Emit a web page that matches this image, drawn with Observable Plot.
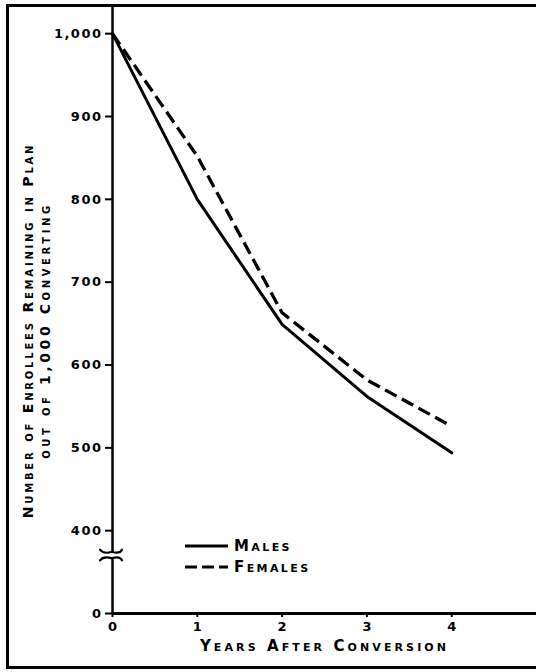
<!DOCTYPE html>
<html>
<head>
<meta charset="utf-8">
<script src="https://cdn.jsdelivr.net/npm/d3@7"></script>
<script src="https://cdn.jsdelivr.net/npm/@observablehq/plot@0.6"></script>
<style>
  body { margin: 0; background: #fff; }
  #wrap { position: relative; width: 536px; height: 672px; overflow: hidden; background: #fff; }
  #wrap svg { position: absolute; left: 0; top: 0; }
  #frame { position: absolute; left: 6px; top: 4px; width: 620px; height: 665px; box-sizing: border-box;
           border: 3px solid #000; border-right: none; pointer-events: none; }
  #wrap svg text { font-variant: small-caps; }
</style>
</head>
<body>
<div id="wrap"><div id="frame"></div></div>
<script>
// ---- data ----
const years   = [0, 1, 2, 3, 4];
const males   = [1000, 800, 649, 562, 494];
const females = [1000, 852, 663, 582, 526];
const seriesNames = ["Males", "Females"];
const yTickValues = [0, 400, 500, 600, 700, 800, 900, 1000];
const xTickValues = [0, 1, 2, 3, 4];
const breakRange = [366, 374];      // axis break between 0 and 400
const yLabelLines = ["Number of Enrollees Remaining in Plan", "out of 1,000 Converting"];
const xLabel = "Years After Conversion";

// broken y axis: 0 drawn where 300 would be
const ZERO_AT = 300;
const toAxis = v => (v === 0 ? ZERO_AT : v);
const fromAxis = v => (v === ZERO_AT ? 0 : v);
const fmt = d3.format(",");

const table = years.flatMap((yr, i) => [
  {year: yr, value: males[i], series: seriesNames[0]},
  {year: yr, value: females[i], series: seriesNames[1]}
]);

const FONT = "DejaVu Sans";

function axisBreak(index, scales, values, dims) {
  const g = d3.create("svg:g");
  const x0 = scales.x(0);
  const yTop = scales.y(breakRange[1]);
  const yBot = scales.y(breakRange[0]);
  g.append("rect").attr("x", x0 - 4).attr("y", yTop).attr("width", 8).attr("height", yBot - yTop).attr("fill", "#fff");
  const brace = (y, s) => `M${x0 - 12},${y - 2 * s} C${x0 - 9},${y + 2 * s} ${x0 - 3},${y + 1 * s} ${x0},${y} C${x0 + 3},${y + 1 * s} ${x0 + 8},${y + 2 * s} ${x0 + 10},${y - 2 * s}`;
  g.append("path").attr("d", brace(yTop, 1)).attr("fill", "none").attr("stroke", "#000").attr("stroke-width", 2.2).attr("stroke-linecap", "round");
  g.append("path").attr("d", brace(yBot, -1)).attr("fill", "none").attr("stroke", "#000").attr("stroke-width", 2.2).attr("stroke-linecap", "round");
  return g.node();
}

function legend(index, scales, values, dims) {
  const g = d3.create("svg:g");
  const xl = dims.marginLeft + 73, xr = dims.marginLeft + 116;
  const base = dims.height - dims.marginBottom;
  const rows = [
    {name: seriesNames[0], dy: -67, dash: null},
    {name: seriesNames[1], dy: -46, dash: "12,5"}
  ];
  for (const r of rows) {
    g.append("line").attr("x1", xl).attr("x2", xr).attr("y1", base + r.dy).attr("y2", base + r.dy)
      .attr("stroke", "#000").attr("stroke-width", 3).attr("stroke-dasharray", r.dash);
    g.append("text").attr("x", xr + 6).attr("y", base + r.dy).attr("dy", "0.36em")
      .attr("text-anchor", "start")
      .attr("font-family", FONT).attr("font-weight", "bold").attr("font-size", 15)
      .attr("letter-spacing", 2.4).attr("fill", "#000").text(r.name);
  }
  return g.node();
}

const chart = Plot.plot({
  width: 536,
  height: 672,
  marginLeft: 112,
  marginRight: 0,
  marginTop: 5,
  marginBottom: 59,
  style: {fontFamily: FONT, fontWeight: "bold", fontSize: "12px", color: "#000", background: "transparent"},
  x: {domain: [0, 5]},
  y: {domain: [ZERO_AT, 1034]},
  marks: [
    Plot.ruleY([ZERO_AT], {stroke: "#000", strokeWidth: 3}),
    Plot.ruleX([0], {stroke: "#000", strokeWidth: 2.5}),
    axisBreak,
    Plot.axisY({ticks: yTickValues.map(toAxis), tickFormat: d => fmt(fromAxis(d)), tickSize: 7, tickPadding: 3,
                strokeWidth: 2, fontSize: 13, label: null}),
    Plot.axisX({ticks: xTickValues, tickFormat: d3.format("d"), tickSize: 4, tickPadding: 4, strokeWidth: 2, fontSize: 13, label: null}),
    Plot.line(table, {x: "year", y: "value", z: "series", stroke: "#000", strokeWidth: 3,
      filter: d => d.series === seriesNames[0], strokeLinecap: "round", strokeLinejoin: "round"}),
    Plot.line(table, {x: "year", y: "value", z: "series", stroke: "#000", strokeWidth: 3.3,
      strokeDasharray: "13,6", filter: d => d.series === seriesNames[1], strokeLinecap: "butt", strokeLinejoin: "round"}),
    Plot.text([xLabel], {frameAnchor: "bottom", dy: 37, fontSize: 15, fontWeight: "bold", text: d => d}),
    Plot.text([yLabelLines[0]], {frameAnchor: "left", textAnchor: "middle", dx: -84, dy: 21, rotate: -90, fontSize: 14, fontWeight: "bold", text: d => d}),
    Plot.text([yLabelLines[1]], {frameAnchor: "left", textAnchor: "middle", dx: -67, dy: 21, rotate: -90, fontSize: 14, fontWeight: "bold", text: d => d}),
    legend
  ]
});
chart.querySelectorAll("text").forEach(t => {
  const s = t.textContent;
  if (s === xLabel) t.setAttribute("letter-spacing", "3.1");
  if (s === yLabelLines[0]) t.setAttribute("letter-spacing", "2.8");
  if (s === yLabelLines[1]) t.setAttribute("letter-spacing", "3.6");
});
chart.querySelectorAll("[aria-label='y-axis tick label'] text").forEach(t => t.setAttribute("letter-spacing", "1.5"));
document.getElementById("wrap").prepend(chart);
</script>
</body>
</html>
